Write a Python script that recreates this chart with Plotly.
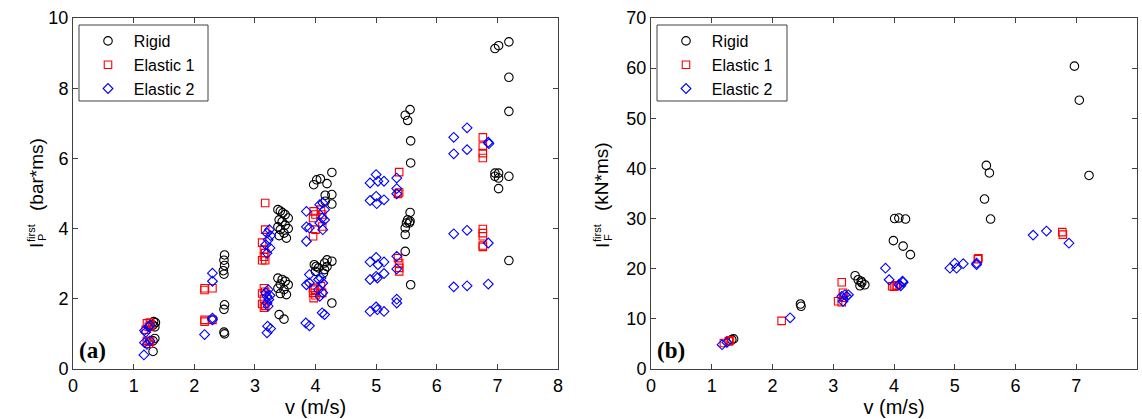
import plotly.graph_objects as go

# ---------------- data: panel (a)  I_P^first (bar*ms) vs v (m/s) ----------------
a_rigid_v = [1.33, 1.36, 1.32, 1.35, 1.35, 1.32, 1.32,
             2.50, 2.49, 2.50, 2.48, 2.49, 2.50, 2.49, 2.49, 2.50,
             3.38, 3.42, 3.46, 3.50, 3.55, 3.40, 3.45, 3.50, 3.38, 3.55, 3.42, 3.48, 3.40, 3.52,
             3.38, 3.45, 3.50, 3.42, 3.55, 3.38, 3.48, 3.42, 3.52, 3.40, 3.48,
             3.97, 4.02, 4.08, 4.19, 4.27, 4.16, 4.27, 4.16, 4.27,
             3.98, 4.01, 4.05, 4.00, 4.15, 4.19, 4.15, 4.19, 4.27, 4.13, 4.27,
             5.48, 5.56, 5.52, 5.57, 5.57, 5.56, 5.52, 5.56, 5.50, 5.48, 5.55, 5.48, 5.48, 5.57,
             6.96, 7.02, 7.19, 7.19, 7.19, 6.96, 7.02, 6.96, 7.02, 7.19, 7.02, 7.19]
a_rigid_i = [1.35, 1.32, 1.25, 1.20, 0.87, 0.80, 0.50,
             3.25, 3.10, 2.95, 2.80, 2.70, 1.83, 1.70, 1.05, 1.00,
             4.54, 4.50, 4.45, 4.40, 4.30, 4.25, 4.20, 4.10, 4.05, 4.00, 3.97, 3.87, 3.80, 3.73,
             2.59, 2.55, 2.50, 2.42, 2.40, 2.30, 2.26, 2.15, 2.12, 1.55, 1.42,
             5.25, 5.39, 5.42, 5.28, 5.60, 4.95, 4.97, 4.78, 4.70,
             2.97, 2.92, 2.88, 2.78, 3.02, 3.11, 2.83, 2.92, 3.07, 2.73, 1.88,
             7.23, 7.39, 7.08, 6.50, 5.87, 4.46, 4.25, 4.21, 4.16, 4.02, 4.16, 3.83, 3.35, 2.40,
             9.13, 9.21, 9.32, 8.31, 7.34, 5.58, 5.58, 5.49, 5.44, 5.49, 5.14, 3.09]

a_el1_v = [1.22, 1.27, 1.25, 1.20, 1.28, 1.22, 1.27, 1.25,
           2.17, 2.17, 2.30, 2.17, 2.17, 2.30,
           3.17, 3.17, 3.12, 3.15, 3.17, 3.15, 3.12, 3.17, 3.15, 3.17, 3.12, 3.15, 3.12, 3.15, 3.17,
           3.97, 4.00, 3.96, 4.09, 4.11, 4.00, 3.96, 4.11, 3.96, 3.96, 3.97, 3.99, 4.00, 4.09, 4.11,
           5.38, 5.38, 5.36, 5.38, 5.38, 5.38, 5.36,
           6.76, 6.76, 6.76, 6.76, 6.76, 6.76, 6.76, 6.76, 6.76]
a_el1_i = [1.30, 1.32, 1.20, 1.12, 1.25, 0.80, 0.78, 0.72,
           2.25, 2.30, 2.30, 1.35, 1.40, 1.40,
           4.73, 3.97, 3.60, 3.40, 3.30, 3.20, 3.10, 3.10, 2.30, 2.20, 2.15, 2.00, 1.85, 1.75, 1.80,
           4.49, 4.40, 4.30, 4.54, 4.40, 3.97, 3.78, 4.06, 2.31, 2.17, 2.02, 2.26, 2.10, 2.36, 2.17,
           5.61, 5.03, 4.99, 3.02, 2.88, 2.78, 3.16,
           6.60, 6.34, 6.15, 6.01, 3.99, 3.87, 3.78, 3.52, 3.48]

a_el2_v = [1.18, 1.20, 1.25, 1.27, 1.18, 1.22, 1.27, 1.17,
           2.30, 2.30, 2.30, 2.30, 2.17,
           3.24, 3.20, 3.26, 3.22, 3.18, 3.25, 3.20, 3.22, 3.18, 3.25, 3.20, 3.23, 3.20, 3.22, 3.21, 3.26, 3.20,
           3.85, 3.85, 3.85, 3.90, 4.07, 4.12, 4.15, 4.11, 4.15, 4.07, 4.12,
           3.85, 3.90, 3.90, 4.05, 4.09, 4.12, 4.05, 4.12, 4.07, 3.84, 3.90, 4.11, 4.15,
           4.90, 5.00, 5.03, 5.13, 4.90, 5.00, 5.01, 5.13, 4.90, 5.00, 5.03, 5.13,
           4.90, 5.00, 5.02, 5.13, 4.90, 5.00, 5.02, 5.13,
           5.34, 5.34, 5.34, 5.34, 5.34, 5.34, 5.34,
           6.28, 6.50, 6.28, 6.50, 6.28, 6.50, 6.28, 6.50,
           6.85, 6.86, 6.85, 6.85]
a_el2_i = [1.10, 1.05, 1.20, 1.25, 0.75, 0.70, 0.80, 0.40,
           2.73, 2.50, 1.45, 1.40, 0.98,
           3.97, 3.87, 3.80, 3.68, 3.54, 3.45, 3.30, 2.26, 2.17, 2.10, 2.07, 1.98, 1.88, 1.79, 1.22, 1.15, 1.03,
           4.49, 4.05, 3.64, 4.02, 4.68, 4.73, 4.54, 4.30, 4.25, 4.16, 3.97,
           2.40, 2.69, 2.45, 2.55, 2.59, 2.45, 2.26, 2.17, 2.07, 1.31, 1.23, 1.60, 1.55,
           5.30, 5.54, 5.35, 5.35, 4.80, 4.92, 4.71, 4.82, 3.05, 3.18, 2.97, 3.05,
           2.55, 2.64, 2.59, 2.72, 1.64, 1.77, 1.69, 1.64,
           5.44, 5.14, 4.99, 3.21, 2.85, 1.99, 1.88,
           6.60, 6.87, 6.13, 6.25, 3.85, 3.95, 2.34, 2.37,
           6.46, 6.42, 3.59, 2.42]

# ---------------- data: panel (b)  I_F^first (kN*ms) vs v (m/s) ----------------
b_rigid_v = [1.33, 1.36, 2.46, 2.47, 3.36, 3.41, 3.47, 3.52, 3.44, 3.46,
             4.01, 4.08, 4.19, 3.99, 4.15, 4.27, 5.52, 5.57, 5.49, 5.59, 6.97, 7.05, 7.21]
b_rigid_i = [5.85, 6.00, 12.96, 12.50, 18.6, 17.8, 17.2, 16.8, 16.6, 17.5,
             30.0, 30.1, 29.9, 25.6, 24.5, 22.8, 40.6, 39.1, 33.9, 29.9, 60.4, 53.6, 38.6]

b_el1_v = [1.20, 1.28, 1.30, 2.15, 3.14, 3.08, 3.14, 3.16, 3.17,
           3.97, 4.00, 4.03, 4.05, 5.38, 5.39, 6.77, 6.78]
b_el1_i = [5.2, 5.5, 5.7, 9.6, 17.3, 13.5, 13.3, 15.2, 14.2,
           16.5, 16.4, 16.6, 16.7, 21.9, 22.1, 27.3, 26.8]

b_el2_v = [1.17, 1.25, 2.29, 3.14, 3.19, 3.22, 3.25, 3.16,
           3.86, 3.92, 4.08, 4.14, 4.15, 4.11, 4.92, 5.00, 5.03, 5.14, 5.36, 5.36,
           6.29, 6.51, 6.88]
b_el2_i = [4.85, 5.3, 10.2, 14.5, 14.8, 14.5, 14.8, 13.5,
           20.1, 17.8, 16.8, 17.5, 17.3, 16.6, 20.1, 21.1, 20.1, 21.0, 21.1, 20.8,
           26.7, 27.5, 25.1]

series_names = ["Rigid", "Elastic 1", "Elastic 2"]
x_ticks = [0, 1, 2, 3, 4, 5, 6, 7, 8]
a_y_ticks = [0, 2, 4, 6, 8, 10]
b_y_ticks = [0, 10, 20, 30, 40, 50, 60, 70]

# ---------------- figure ----------------
W, H = 1142, 419
ML, MR, MT, MB = 73, 5, 18, 50
PW, PH = W - ML - MR, H - MT - MB

def px_x(p):
    return (p - ML) / PW

def px_y(p):
    return (H - MB - p) / PH

FAM = "Liberation Sans, Arial, Helvetica, sans-serif"
styles = [
    dict(symbol="circle-open", color="black", size=8.5),
    dict(symbol="square-open", color="red", size=7.5),
    dict(symbol="diamond-open", color="blue", size=7.5),
]

fig = go.Figure()
panel_a = [(a_rigid_v, a_rigid_i), (a_el1_v, a_el1_i), (a_el2_v, a_el2_i)]
panel_b = [(b_rigid_v, b_rigid_i), (b_el1_v, b_el1_i), (b_el2_v, b_el2_i)]
pad = "\u2006\u2009"   # small extra gap between legend symbol and text

for (xs, ys), name, st in zip(panel_a, series_names, styles):
    fig.add_trace(go.Scatter(
        x=xs, y=ys, mode="markers", name=pad + name, legend="legend",
        marker=dict(symbol=st["symbol"], color=st["color"], size=st["size"],
                    line=dict(width=1.1, color=st["color"])),
        xaxis="x", yaxis="y"))
for (xs, ys), name, st in zip(panel_b, series_names, styles):
    fig.add_trace(go.Scatter(
        x=xs, y=ys, mode="markers", name=pad + name, legend="legend2",
        marker=dict(symbol=st["symbol"], color=st["color"], size=st["size"],
                    line=dict(width=1.1, color=st["color"])),
        xaxis="x2", yaxis="y2"))

tick_font = dict(family=FAM, size=18, color="black")
xtitle_font = dict(family=FAM, size=20, color="black")
title_font = dict(family=FAM, size=19, color="black")
legend_font = dict(family=FAM, size=16, color="black")

axis_common = dict(showline=True, linecolor="#404040", linewidth=1, mirror="ticks",
                   ticks="inside", ticklen=5, tickcolor="#404040", showgrid=False,
                   zeroline=False, tickfont=tick_font)

dom_a = [0, px_x(558)]
dom_b = [px_x(651), 1]

fig.update_layout(
    width=W, height=H,
    margin=dict(l=ML, r=MR, t=MT, b=MB, autoexpand=False),
    paper_bgcolor="white", plot_bgcolor="white",
    font=tick_font,
    xaxis=dict(domain=dom_a, range=[0, 8], tickvals=x_ticks, anchor="y",
               title=dict(text="v (m/s)", font=xtitle_font, standoff=2), **axis_common),
    yaxis=dict(domain=[0, 1], range=[0, 10], tickvals=a_y_ticks, anchor="x", **axis_common),
    xaxis2=dict(domain=dom_b, range=[0, 8], tickvals=x_ticks, anchor="y2",
                title=dict(text="v (m/s)", font=xtitle_font, standoff=2), **axis_common),
    yaxis2=dict(domain=[0, 1], range=[0, 70], tickvals=b_y_ticks, anchor="x2", **axis_common),
    legend=dict(x=px_x(88), y=px_y(24), xanchor="left", yanchor="top",
                borderwidth=0, bgcolor="rgba(0,0,0,0)",
                font=legend_font, tracegroupgap=0, itemwidth=30),
    legend2=dict(x=px_x(666), y=px_y(24), xanchor="left", yanchor="top",
                 borderwidth=0, bgcolor="rgba(0,0,0,0)",
                 font=legend_font, tracegroupgap=0, itemwidth=30),
    showlegend=True,
)

# legend frames
for x0, x1 in [(79, 208), (657, 787)]:
    fig.add_shape(type="rect", xref="paper", yref="paper",
                  x0=px_x(x0), x1=px_x(x1), y0=px_y(101), y1=px_y(25),
                  line=dict(color="#404040", width=1), fillcolor="rgba(0,0,0,0)",
                  layer="above")

# panel labels
for ref, lab in [("x", "(a)"), ("x2", "(b)")]:
    fig.add_annotation(xref=f"{ref} domain", yref="paper", x=0.008, y=0.01,
                       xanchor="left", yanchor="bottom", showarrow=False,
                       text=f"<b>{lab}</b>",
                       font=dict(family="Liberation Serif, Times New Roman, serif",
                                 size=23, color="black"))

# y-axis titles: I with stacked superscript "first" and subscript, then units
small_font = dict(family=FAM, size=11, color="black")

def ytitle(cx, sub, unit, unit_cy, i_cy):
    fig.add_annotation(xref="paper", yref="paper", x=px_x(cx), y=px_y(i_cy),
                       text="I", textangle=-90, showarrow=False,
                       xanchor="center", yanchor="middle", font=title_font)
    fig.add_annotation(xref="paper", yref="paper", x=px_x(cx - 5), y=px_y(i_cy - 13),
                       text="first", textangle=-90, showarrow=False,
                       xanchor="center", yanchor="middle", font=small_font)
    fig.add_annotation(xref="paper", yref="paper", x=px_x(cx + 6), y=px_y(i_cy - 8),
                       text=sub, textangle=-90, showarrow=False,
                       xanchor="center", yanchor="middle", font=small_font)
    fig.add_annotation(xref="paper", yref="paper", x=px_x(cx), y=px_y(unit_cy),
                       text=unit, textangle=-90, showarrow=False,
                       xanchor="center", yanchor="middle", font=title_font)

ytitle(36, "P", "(bar*ms)", 175, 246)
ytitle(602, "F", "(kN*ms)", 177, 246)

fig.write_html("out.html", config={"displayModeBar": False},
               post_script="document.body.style.margin='0';document.body.style.padding='0';")
